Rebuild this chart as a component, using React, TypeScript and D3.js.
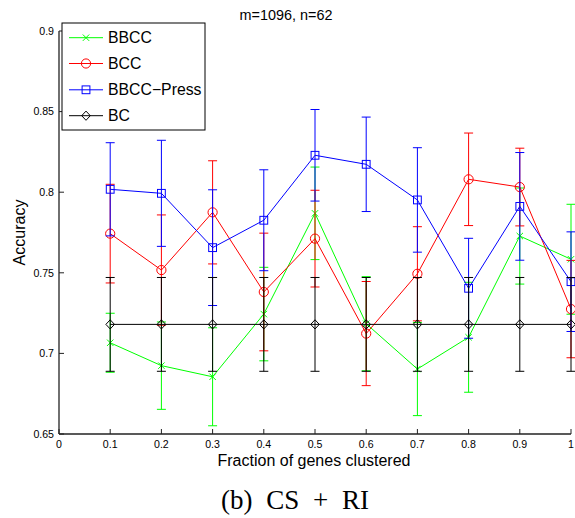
import React from "react";
import * as d3 from "d3";

const xs = [0.1, 0.2, 0.3, 0.4, 0.5, 0.6, 0.7, 0.8, 0.9, 1.0];
const bbcc = [0.7066, 0.6924, 0.6855, 0.7244, 0.7869, 0.7184, 0.6903, 0.71, 0.7728, 0.7584];
const bbccErr = [0.0183, 0.0271, 0.0304, 0.029, 0.0287, 0.0292, 0.0289, 0.0341, 0.0298, 0.0341];
const bcc = [0.7743, 0.7517, 0.7875, 0.7381, 0.7712, 0.7123, 0.7494, 0.808, 0.8032, 0.7275];
const bccErr = [0.0306, 0.0342, 0.032, 0.0365, 0.03, 0.0323, 0.0292, 0.0287, 0.0241, 0.0302];
const press = [0.8018, 0.7993, 0.7656, 0.7826, 0.8229, 0.8173, 0.7952, 0.7404, 0.7912, 0.7445];
const pressErr = [0.0289, 0.0329, 0.0359, 0.0313, 0.0284, 0.0293, 0.0324, 0.031, 0.0334, 0.0309];
const bc = [0.718, 0.718, 0.718, 0.718, 0.718, 0.718, 0.718, 0.718, 0.718, 0.718];
const bcErr = [0.0291, 0.0291, 0.0291, 0.0291, 0.0291, 0.0291, 0.0291, 0.0291, 0.0291, 0.0291];

const seriesNames = ["BBCC", "BCC", "BBCC\u2212Press", "BC"];
const xTicks = [0, 0.1, 0.2, 0.3, 0.4, 0.5, 0.6, 0.7, 0.8, 0.9, 1];
const yTicks = [0.65, 0.7, 0.75, 0.8, 0.85, 0.9];
const title = "m=1096, n=62";
const xLabel = "Fraction of genes clustered";
const yLabel = "Accuracy";
const caption = "(b) CS + RI";

const series = [
  { name: seriesNames[0], vals: bbcc, err: bbccErr, color: "#00ff00", marker: "x" },
  { name: seriesNames[1], vals: bcc, err: bccErr, color: "#ff0000", marker: "o" },
  { name: seriesNames[2], vals: press, err: pressErr, color: "#0000ff", marker: "s" },
  { name: seriesNames[3], vals: bc, err: bcErr, color: "#000000", marker: "d" },
];

const SANS = "'Liberation Sans', Arial, Helvetica, sans-serif";

function Marker({ type, cx, cy, color }: { type: string; cx: number; cy: number; color: string }) {
  if (type === "x") {
    const s = 3.2;
    return (
      <path d={`M${cx - s},${cy - s}L${cx + s},${cy + s}M${cx - s},${cy + s}L${cx + s},${cy - s}`} stroke={color} strokeWidth={1} fill="none" />
    );
  }
  if (type === "o") return <circle cx={cx} cy={cy} r={4.6} stroke={color} strokeWidth={1} fill="none" />;
  if (type === "s") return <rect x={cx - 3.9} y={cy - 3.9} width={7.8} height={7.8} stroke={color} strokeWidth={1} fill="none" />;
  return (
    <path d={`M${cx},${cy - 4.6}L${cx + 4.3},${cy}L${cx},${cy + 4.6}L${cx - 4.3},${cy}Z`} stroke={color} strokeWidth={1} fill="none" />
  );
}

const fmt = (v: number) => String(+v.toFixed(2));

export default function App() {
  const x = d3.scaleLinear().domain([0, 1]).range([59, 571]);
  const y = d3.scaleLinear().domain([0.65, 0.9]).range([434, 31]);
  const line = d3
    .line<number>()
    .x((_, i) => x(xs[i]))
    .y((d) => y(d));
  const cap = 4.5;
  const legendY = [37.7, 63.5, 89.8, 115.7];

  return (
    <svg width={575} height={518} style={{ position: "absolute", left: 0, top: 0, background: "#fff" }} fontFamily={SANS}>
      <rect x={0} y={0} width={575} height={518} fill="#fff" />
      {/* title */}
      <text x={286} y={20} fontSize={14.4} textAnchor="middle" fill="#000">{title}</text>

      {/* series */}
      {series.map((s) => (
        <g key={s.name}>
          {s.vals.map((v, i) => {
            const cx = x(xs[i]);
            const y1 = y(v + s.err[i]);
            const y0 = y(v - s.err[i]);
            return (
              <g key={i} stroke={s.color} strokeWidth={1}>
                <line x1={cx} x2={cx} y1={y1} y2={y0} />
                <line x1={cx - cap} x2={cx + cap} y1={y1} y2={y1} />
                <line x1={cx - cap} x2={cx + cap} y1={y0} y2={y0} />
              </g>
            );
          })}
          <path d={line(s.vals) || ""} stroke={s.color} strokeWidth={1} fill="none" />
          {s.vals.map((v, i) => (
            <Marker key={"m" + i} type={s.marker} cx={x(xs[i])} cy={y(v)} color={s.color} />
          ))}
        </g>
      ))}

      {/* axes */}
      <line x1={x(0)} x2={x(1)} y1={y(0.65)} y2={y(0.65)} stroke="#222" strokeWidth={1.3} />
      <line x1={x(0)} x2={x(0)} y1={y(0.65)} y2={y(0.9)} stroke="#222" strokeWidth={1.3} />
      {xTicks.map((t) => (
        <g key={"xt" + t}>
          <line x1={x(t)} x2={x(t)} y1={y(0.65)} y2={y(0.65) - 5} stroke="#222" strokeWidth={1} />
          <text x={x(t)} y={448} fontSize={10.6} textAnchor="middle" fill="#000">{fmt(t)}</text>
        </g>
      ))}
      {yTicks.map((t) => (
        <g key={"yt" + t}>
          <line x1={x(0)} x2={x(0) + 5} y1={y(t)} y2={y(t)} stroke="#222" strokeWidth={1} />
          <text x={54} y={y(t) + 3.8} fontSize={10.6} textAnchor="end" fill="#000">{fmt(t)}</text>
        </g>
      ))}
      <text x={314} y={466} fontSize={16} textAnchor="middle" fill="#000">{xLabel}</text>
      <text transform={`translate(24.5,${(y(0.65) + y(0.9)) / 2}) rotate(-90)`} fontSize={16} textAnchor="middle" fill="#000">{yLabel}</text>

      {/* legend */}
      <rect x={62} y={23} width={143} height={107} fill="#fff" stroke="#000" strokeWidth={1} />
      {series.map((s, i) => (
        <g key={"lg" + i}>
          <line x1={69} x2={103} y1={legendY[i]} y2={legendY[i]} stroke={s.color} strokeWidth={1} />
          <Marker type={s.marker} cx={86} cy={legendY[i]} color={s.color} />
          <text x={108} y={legendY[i] + 5.6} fontSize={15.8} fill="#000">{s.name}</text>
        </g>
      ))}

      {/* caption */}
      <text x={295} y={508.5} fontSize={27} textAnchor="middle" fill="#000" fontFamily="'Liberation Serif', 'Times New Roman', serif" wordSpacing={7}>{caption}</text>
    </svg>
  );
}
